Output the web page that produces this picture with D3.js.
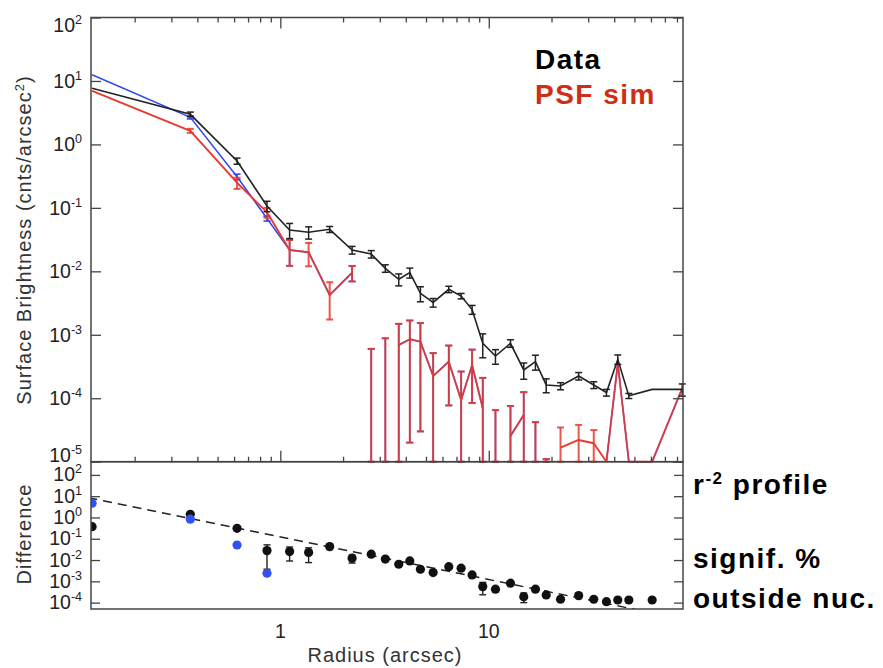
<!DOCTYPE html>
<html>
<head>
<meta charset="utf-8">
<script src="https://cdn.jsdelivr.net/npm/d3@7/dist/d3.min.js"></script>
<style>
  html, body { margin: 0; padding: 0; background: #fff; }
  svg { display: block; font-family: "Liberation Sans", Arial, Helvetica, sans-serif; }
</style>
</head>
<body>
<svg id="chart" width="883" height="668"></svg>
<script>
/* Radial surface-brightness profile: data vs PSF sim, plus difference panel */

// radii of the annuli (arcsec)
const radius = [0.125, 0.37, 0.62, 0.863, 1.108, 1.367, 1.725, 2.21, 2.73, 3.19,
  3.70, 4.18, 4.70, 5.41, 6.43, 7.37, 8.32, 9.36, 10.77, 12.71,
  14.72, 16.75, 18.87, 22.1, 27.0, 31.9, 36.7, 41.6, 47.0, 60.8, 84.8];

// observed profile (black)
const dataVal = [7.7, 2.98, 0.548, 0.107, 0.0448, 0.0412, 0.0459, 0.0217, 0.0187, 0.01116,
  0.0075, 0.00953, 0.00451, 0.00323, 0.00521, 0.00408, 0.0025, 0.000734, 0.000463, 0.000734,
  0.000279, 0.000377, 0.000162, 0.000156, 0.000224, 0.000162, 0.000123, 0.000411, 0.000109, 0.000138, 0.000138];
const dataErr = [0, 0.25, 0.06, 0.02, 0.012, 0.009, 0.005, 0.003, 0.0025, 0.0015,
  0.0016, 0.0017, 0.0012, 0.0005, 0.0006, 0.0004, 0.0004, 0.0003, 0.00012, 0.0001,
  0.00008, 0.0001, 0.00004, 0.00002, 0.00003, 0.00002, 0.000015, 0.00007, 0.00001, 0, 0.00003];

// PSF simulation (red); negative = no line point, bar only
const psfVal = [7.0, 1.64, 0.249, 0.085, 0.0217, 0.0200, 0.00424, 0.00953, -0.0001, -0.0002,
  0.00069, 0.00085, 0.00078, 0.000224, 0.000377, 0.0000937, 0.000334, 0.0000695, -0.00001, 0.0000254,
  0.0000545, -0.00001, -0.00002, 0.0000166, 0.000022, 0.0000195, 1e-7, 0.000356, 1e-7, 1e-7, 0.000144];
const psfErr = [0, 0.12, 0.05, 0.015, 0.0095, 0.008, 0.0025, 0.0026, 0.0007, 0.00108,
  0.0008, 0.00083, 0.00075, 0.00029, 0.0003, 0.00017, 0.00025, 0.00014, 0.000075, 0.00005,
  0.00007, 0.000052, 0.000031, 0.000018, 0.000016, 0.000012, 0, 0, 0, 0, 0];

// second simulation (blue), mostly hidden under the red one
const blueVal = [12.5, 2.67, 0.31, 0.068, 0.0217, 0.0200, 0.00424, 0.00953, -0.0001, -0.0002,
  0.00069, 0.00085, 0.00078, 0.000224, 0.000377, 0.0000937, 0.000334, 0.0000695, -0.00001, 0.0000254,
  0.0000545, -0.00001, -0.00002, null, null, null, 1e-7, 0.000356, 1e-7, 1e-7, 0.000144];
const blueErr = [0, 0.15, 0.03, 0.006, 0.0095, 0, 0, 0.0026, 0.0007, 0.00108,
  0.0008, 0.00083, 0.00075, 0.00029, 0.0003, 0.00017, 0.00025, 0.00014, 0.000075, 0.00005,
  0.00007, 0.000052, 0.000031, 0, 0, 0, 0, 0, 0, 0, 0];

// difference panel
const diffVal = [0.37, 1.42, 0.31, 0.0277, 0.025, 0.0226, 0.0427, 0.0122, 0.0188, 0.0111,
  0.00635, 0.0091, 0.0037, 0.00257, 0.0049, 0.00413, 0.002, 0.000564, 0.000427, 0.000815,
  0.00019, 0.000427, 0.00023, 0.000144, 0.000213, 0.000144, 0.000111, 0.000133, 0.000133, 0.000133];
const diffErr = [0, 0, 0, 0.024, 0.016, 0.015, 0, 0.005, 0, 0,
  0, 0, 0, 0, 0, 0, 0, 0.00033, 0.0001, 0,
  0.00009, 0, 0, 0, 0, 0, 0, 0, 0, 0];
const diffBlue = [4.7, 0.83, 0.051, 0.0024];

// r^-2 reference line
const profileR = [0.12, 85];
const profileV = [8.47, 1.69e-5];

const yTicksTop = [1e-5, 1e-4, 1e-3, 1e-2, 1e-1, 1, 10, 100];
const yTicksBottom = [1e-4, 1e-3, 1e-2, 1e-1, 1, 10, 100];
const xMajor = [1, 10];
const xMinor = [0.2, 0.3, 0.4, 0.5, 0.6, 0.7, 0.8, 0.9, 2, 3, 4, 5, 6, 7, 8, 9, 20, 30, 40, 50, 60, 70, 80];

const L = 91, R = 683, T1 = 17.5, B1 = 461.7, B2 = 609;
const INK = "#444";
const RED = "#e8392d", BLUE = "#3048f0", BLACK = "#222";

const svg = d3.select("#chart");

const x = d3.scaleLog().domain([0.1235, 85.5]).range([L, R]);
const y1 = d3.scaleLog().domain([1e-5, 1e2]).range([B1, T1]).clamp(true);
const y2 = d3.scaleLog().domain([Math.pow(10, -4.3), Math.pow(10, 2.62)]).range([B2, B1]);

const yv = (scale, v) => (v > 0 ? scale(v) : scale.range()[0]);

svg.append("defs").append("clipPath").attr("id", "clip2")
  .append("rect").attr("x", L).attr("y", B1).attr("width", R - L).attr("height", B2 - B1);

// ---- series, top panel ----
const topG = svg.append("g");

function drawBars(g, vals, errs, color, width, opacity) {
  radius.forEach((r, i) => {
    const v = vals[i], e = errs[i];
    if (v == null || !e) return;
    const yHi = yv(y1, v + e), yLo = yv(y1, v - e), cx = x(r);
    const b = g.append("g").attr("stroke", color).attr("stroke-width", width).attr("stroke-opacity", opacity);
    b.append("line").attr("x1", cx).attr("x2", cx).attr("y1", yHi).attr("y2", yLo);
    b.append("line").attr("x1", cx - 3.5).attr("x2", cx + 3.5).attr("y1", yHi).attr("y2", yHi);
    b.append("line").attr("x1", cx - 3.5).attr("x2", cx + 3.5).attr("y1", yLo).attr("y2", yLo);
  });
}

const idx = d3.range(radius.length);

// blue first (underneath)
topG.append("path")
  .attr("d", d3.line().defined(i => blueVal[i] != null && blueVal[i] > 0)
    .x(i => x(radius[i])).y(i => y1(blueVal[i]))(idx))
  .attr("fill", "none").attr("stroke", BLUE).attr("stroke-width", 1.5);
drawBars(topG, blueVal, blueErr, BLUE, 1.6, 1);

// red, segment by segment; overlapping parts blend with the blue beneath
const seg = d3.line().x(i => x(radius[i])).y(i => y1(psfVal[i]));
d3.range(radius.length - 1).forEach(i => {
  const a = psfVal[i], b = psfVal[i + 1];
  if (!(a > 0 && b > 0)) return;
  const shared = blueVal[i] === a && blueVal[i + 1] === b;
  topG.append("path").attr("d", seg([i, i + 1]))
    .attr("fill", "none").attr("stroke", RED).attr("stroke-width", 1.9)
    .attr("stroke-opacity", shared ? 0.85 : 1);
});
drawBars(topG, psfVal, psfErr, RED, 2, 0.85);

// data
topG.append("path")
  .attr("d", d3.line().x(i => x(radius[i])).y(i => y1(dataVal[i]))(idx))
  .attr("fill", "none").attr("stroke", BLACK).attr("stroke-width", 1.6);
drawBars(topG, dataVal, dataErr, BLACK, 1.5, 1);

// ---- bottom panel ----
const botG = svg.append("g").attr("clip-path", "url(#clip2)");
botG.append("path")
  .attr("d", d3.line().x((r) => x(r)).y((r, i) => y2(profileV[i]))(profileR))
  .attr("fill", "none").attr("stroke", BLACK).attr("stroke-width", 1.4)
  .attr("stroke-dasharray", "9,6");

diffVal.forEach((v, i) => {
  const e = diffErr[i];
  if (!e) return;
  const cx = x(radius[i]), yHi = y2(v + e), yLo = y2(Math.max(v - e, 1e-6));
  const b = botG.append("g").attr("stroke", BLACK).attr("stroke-width", 1.4);
  b.append("line").attr("x1", cx).attr("x2", cx).attr("y1", yHi).attr("y2", yLo);
  b.append("line").attr("x1", cx - 3.5).attr("x2", cx + 3.5).attr("y1", yHi).attr("y2", yHi);
  b.append("line").attr("x1", cx - 3.5).attr("x2", cx + 3.5).attr("y1", yLo).attr("y2", yLo);
});
botG.selectAll("circle.diff").data(diffVal).join("circle").attr("class", "diff")
  .attr("cx", (d, i) => x(radius[i])).attr("cy", d => y2(d)).attr("r", 4.6).attr("fill", "#111");
botG.selectAll("circle.blue").data(diffBlue).join("circle").attr("class", "blue")
  .attr("cx", (d, i) => x(radius[i])).attr("cy", d => y2(d)).attr("r", 4.6).attr("fill", "#2f52f0");

// ---- frames and ticks ----
const axes = svg.append("g").attr("color", INK);
axes.append("rect").attr("x", L).attr("y", T1).attr("width", R - L).attr("height", B1 - T1)
  .attr("fill", "none").attr("stroke", INK).attr("stroke-width", 1.5);
axes.append("rect").attr("x", L).attr("y", B1).attr("width", R - L).attr("height", B2 - B1)
  .attr("fill", "none").attr("stroke", INK).attr("stroke-width", 1.5);

function tickGroup(tx, ty, axis) {
  axes.append("g").attr("transform", `translate(${tx},${ty})`).call(axis)
    .call(g => g.select(".domain").remove())
    .call(g => g.selectAll("line").attr("stroke-width", 1.3));
}
tickGroup(L, 0, d3.axisLeft(y1).tickValues(yTicksTop).tickSize(-10).tickFormat(""));
tickGroup(R, 0, d3.axisRight(y1).tickValues(yTicksTop).tickSize(-10).tickFormat(""));
tickGroup(L, 0, d3.axisLeft(y2).tickValues(yTicksBottom).tickSize(-9).tickFormat(""));
tickGroup(R, 0, d3.axisRight(y2).tickValues(yTicksBottom).tickSize(-9).tickFormat(""));
tickGroup(0, T1, d3.axisBottom(x).tickValues(xMajor).tickSize(11).tickFormat(""));
tickGroup(0, T1, d3.axisBottom(x).tickValues(xMinor).tickSize(5).tickFormat(""));
tickGroup(0, B1, d3.axisTop(x).tickValues(xMajor).tickSize(11).tickFormat(""));
tickGroup(0, B1, d3.axisTop(x).tickValues(xMinor).tickSize(5).tickFormat(""));

// ---- tick labels ----
function powLabels(ticks, scale, shift) {
  const t = svg.append("g").selectAll("text").data(ticks).join("text")
    .attr("x", 82).attr("y", (d, i) => scale(d) + shift(d, i))
    .attr("text-anchor", "end").attr("font-size", 19.5).attr("fill", "#222");
  t.append("tspan").text("10");
  t.append("tspan").attr("dy", -8).attr("font-size", 12.5).text(d => String(Math.round(Math.log10(d))));
}
powLabels(yTicksTop, y1, (d, i) => (i === 0 ? 0 : i === yTicksTop.length - 1 ? 14 : 7));
powLabels(yTicksBottom, y2, () => 6.5);

svg.append("g").selectAll("text").data(xMajor).join("text")
  .attr("x", d => x(d)).attr("y", 638).attr("text-anchor", "middle")
  .attr("font-size", 19.5).attr("fill", "#222").text(d => d);

// ---- axis titles ----
svg.append("text").attr("x", 385).attr("y", 662).attr("text-anchor", "middle")
  .attr("font-size", 20).attr("letter-spacing", 1).attr("fill", "#333").text("Radius (arcsec)");

const yt = svg.append("text").attr("transform", "translate(31,240) rotate(-90)")
  .attr("text-anchor", "middle").attr("font-size", 20).attr("letter-spacing", 1).attr("fill", "#333");
yt.append("tspan").text("Surface Brightness (cnts/arcsec");
yt.append("tspan").attr("dy", -7).attr("font-size", 13).text("2");
yt.append("tspan").attr("dy", 7).text(")");

svg.append("text").attr("transform", "translate(31,534) rotate(-90)")
  .attr("text-anchor", "middle").attr("font-size", 20).attr("letter-spacing", 1).attr("fill", "#333").text("Difference");

// ---- annotations ----
const note = svg.append("g").attr("font-weight", "bold").attr("font-size", 28).attr("letter-spacing", 1.5);
note.append("text").attr("x", 535).attr("y", 69).attr("fill", "#000").text("Data");
note.append("text").attr("x", 535).attr("y", 104).attr("fill", "#cf2e16").text("PSF sim");
const rp = note.append("text").attr("x", 693).attr("y", 494).attr("fill", "#000");
rp.append("tspan").text("r");
rp.append("tspan").attr("dy", -10).attr("font-size", 17).text("-2");
rp.append("tspan").attr("dy", 10).text(" profile");
note.append("text").attr("x", 693).attr("y", 568).attr("fill", "#000").text("signif. %");
note.append("text").attr("x", 693).attr("y", 608).attr("fill", "#000").text("outside nuc.");
</script>
</body>
</html>
